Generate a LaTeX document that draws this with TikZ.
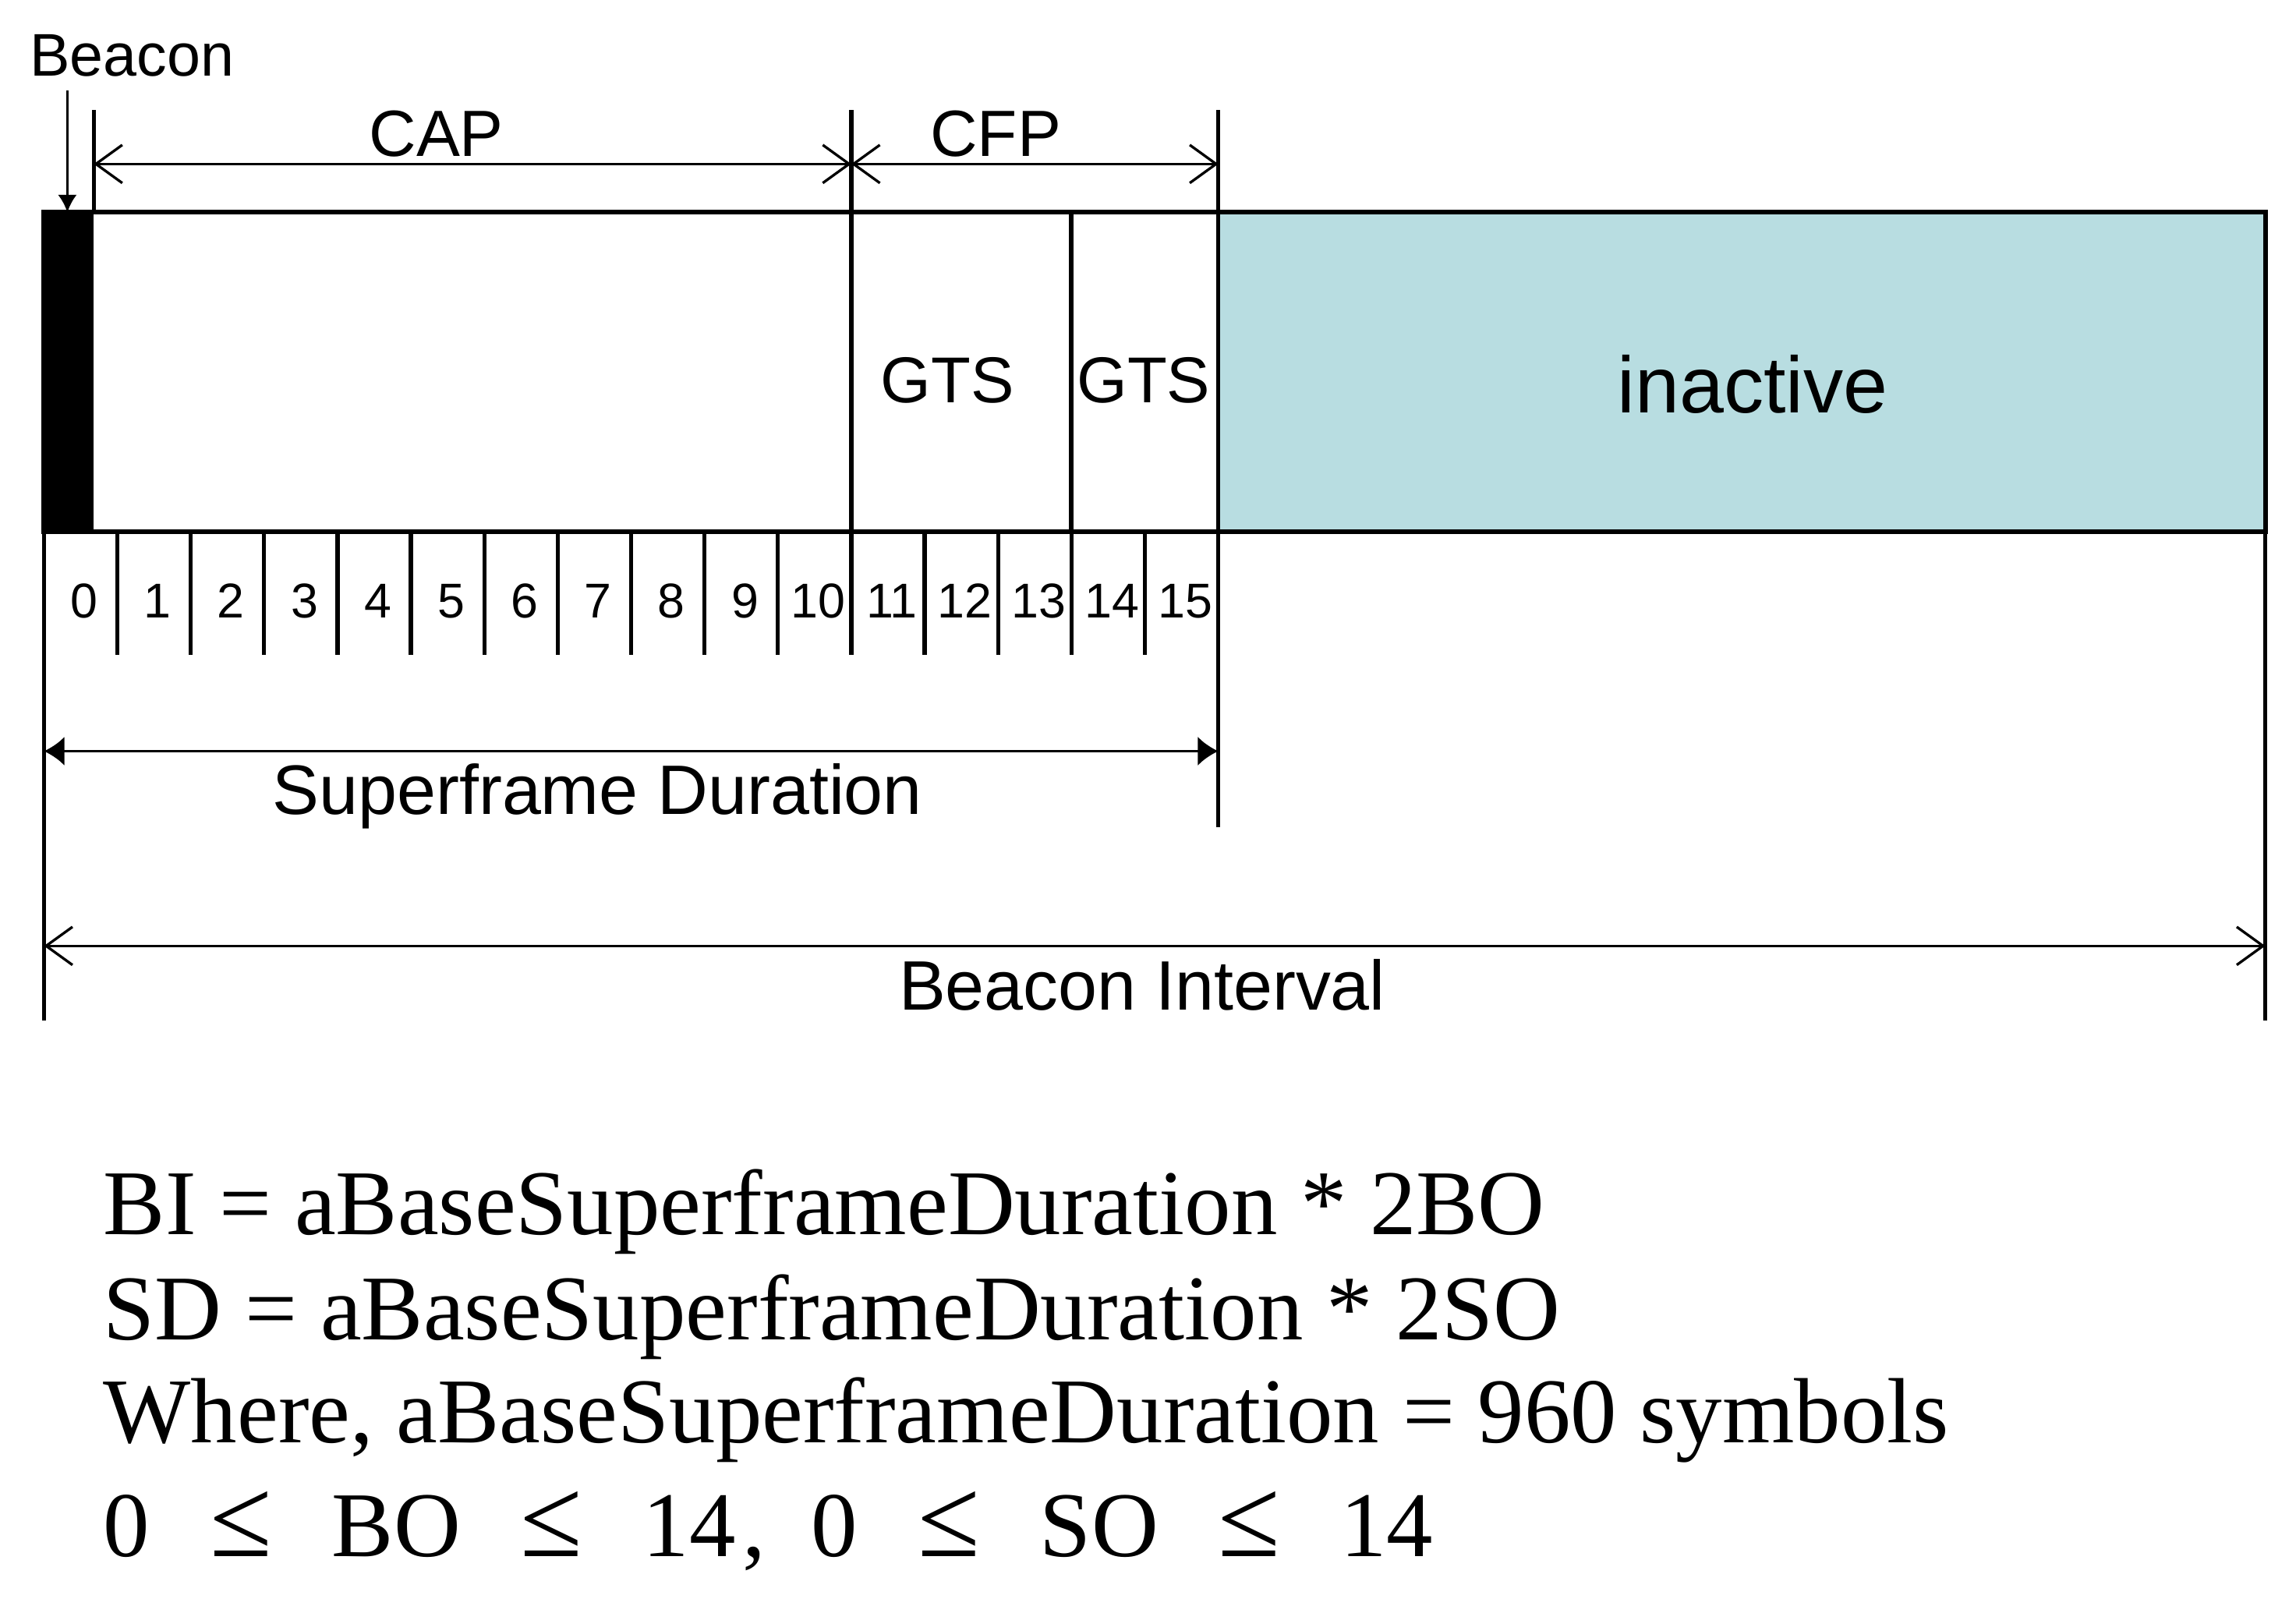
\documentclass[tikz,border=0pt]{standalone}
\usepackage{fontspec}
\setmainfont{Liberation Sans}
\newfontfamily\eqfont{Liberation Serif}
\usetikzlibrary{arrows.meta}
\definecolor{inactblock}{RGB}{184, 221, 225}
\newcommand{\eqgap}{\hspace{0.41cm}}
\newcommand{\leqsym}{{\fontsize{22}{22}\selectfont ≤}}
\tikzset{
  boxline/.style={black, line width=0.9pt},
  edgeline/.style={black, line width=0.8pt},
  barbarrow/.style={line width=0.5pt, {Straight Barb[length=1.8mm,width=2.6mm]}-{Straight Barb[length=1.8mm,width=2.6mm]}},
  filledarrow/.style={line width=0.6pt, {Latex[length=1.4mm,width=2mm]}-{Latex[length=1.4mm,width=2mm]}},
  lbl/.style={inner sep=0pt, anchor=base},
  eqline/.style={inner sep=0pt, anchor=base west, font=\eqfont\fontsize{18}{20}\selectfont},
}

\begin{document}
\begin{tikzpicture}
  \def\sw{0.50125}
  \def\bh{2.18}
  \def\bi{15.17}
  \useasboundingbox (-0.30,-7.29) rectangle (15.38,3.63);

  % superframe blocks
  \fill[inactblock] (16*\sw, 0) rectangle (\bi, \bh);
  \fill[black]      (0, 0)      rectangle (0.34, \bh);
  \draw[boxline] (0,0) rectangle (\bi, \bh);
  \draw[boxline] (14*\sw, 0) -- (14*\sw, \bh);

  % long vertical markers
  \draw[edgeline] (0.34, \bh) -- (0.34, 2.88);
  \draw[edgeline] (11*\sw, 0) -- (11*\sw, 2.88);
  \draw[edgeline] (16*\sw, -2.02) -- (16*\sw, 2.88);
  \draw[edgeline] (0, 0) -- (0, -3.34);
  \draw[edgeline] (\bi, 0) -- (\bi, -3.34);

  % slot ticks and numbers
  \foreach \i in {1,...,15}
    \draw[edgeline] (\i*\sw, 0) -- (\i*\sw, -0.84);
  \foreach \i in {0,...,15}
    \node[lbl, font=\fontsize{9.5}{11}\selectfont] (slot\i) at ({(\i+0.55)*\sw}, -0.59) {\i};

  % arrow end points
  \coordinate (capL) at (0.34, 2.51);
  \coordinate (capR) at (11*\sw, 2.51);
  \coordinate (cfpR) at (16*\sw, 2.51);
  \coordinate (sdL)  at (0, -1.50);
  \coordinate (sdR)  at (16*\sw, -1.50);
  \coordinate (biL)  at (0, -2.83);
  \coordinate (biR)  at (\bi, -2.83);
  \coordinate (bcnTop) at (0.16, 3.01);
  \coordinate (bcnBot) at (0.16, \bh);

  \draw[barbarrow] (capL) -- (capR);
  \draw[barbarrow] (capR) -- (cfpR);
  \draw[filledarrow] (sdL) -- (sdR);
  \draw[barbarrow] (biL) -- (biR);
  \draw[line width=0.5pt, -{Latex[length=1.2mm,width=1.3mm]}] (bcnTop) -- (bcnBot);

  % labels
  \node[lbl, font=\fontsize{11.7}{13}\selectfont] (beacon) at (0.60, 3.11) {Beacon};
  \node[lbl, font=\fontsize{12.7}{14}\selectfont] (cap) at (2.68, 2.56) {CAP};
  \node[lbl, font=\fontsize{12.7}{14}\selectfont] (cfp) at (6.50, 2.56) {CFP};
  \node[lbl, font=\fontsize{12.6}{14}\selectfont] (gtsA) at (6.17, 0.88) {GTS};
  \node[lbl, font=\fontsize{12.6}{14}\selectfont] (gtsB) at (7.51, 0.88) {GTS};
  \node[lbl, font=\fontsize{15.5}{17}\selectfont] (inact) at (11.67, 0.81) {inactive};
  \node[lbl, font=\fontsize{13.6}{15}\selectfont] (sd) at (3.78, -1.93) {Superframe Duration};
  \node[lbl, font=\fontsize{13.6}{15}\selectfont] (bint) at (7.50, -3.27) {Beacon Interval};

  % formulas
  \node[eqline] (eqA) at (0.40, -4.80) {BI = aBaseSuperframeDuration * 2BO};
  \node[eqline] (eqB) at (0.40, -5.52) {SD = aBaseSuperframeDuration * 2SO};
  \node[eqline] (eqC) at (0.40, -6.22) {Where, aBaseSuperframeDuration = 960 symbols};
  \node[eqline] (eqD) at (0.40, -7.00) {0\eqgap\leqsym\eqgap BO\eqgap\leqsym\eqgap 14\hspace{0.05cm},\hspace{0.31cm}0\eqgap\leqsym\eqgap SO\eqgap\leqsym\eqgap 14};
\end{tikzpicture}
\end{document}
